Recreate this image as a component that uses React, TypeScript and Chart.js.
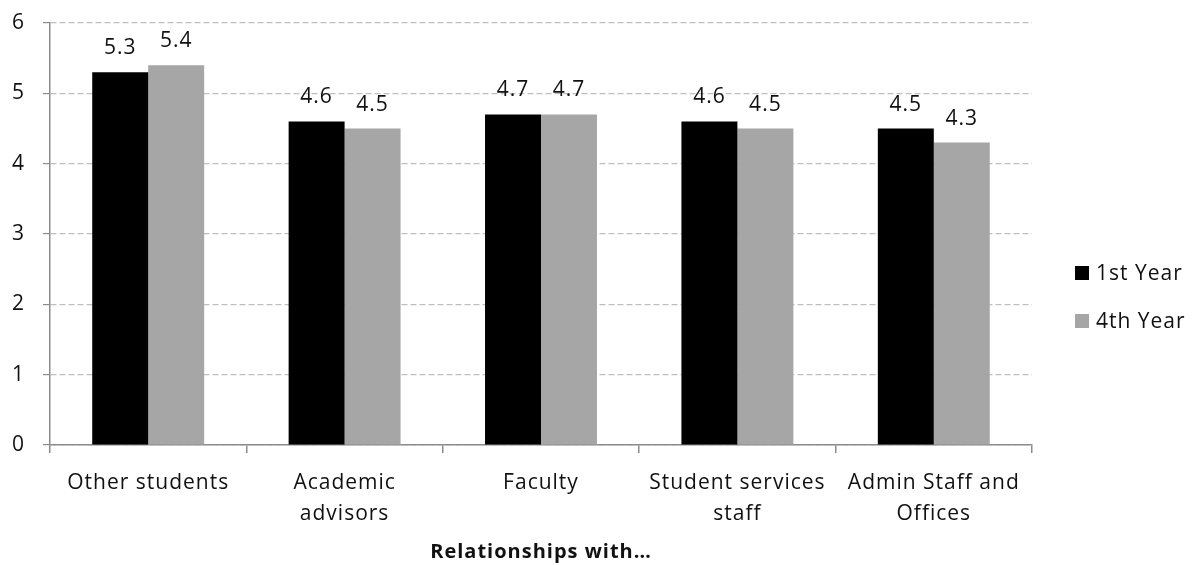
import React, { useEffect, useRef } from "react";
import { Chart, registerables } from "chart.js";

Chart.register(...registerables);

const categories: string[][] = [
  ["Other students"],
  ["Academic", "advisors"],
  ["Faculty"],
  ["Student services", "staff"],
  ["Admin Staff and", "Offices"],
];
const firstYear: number[] = [5.3, 4.6, 4.7, 4.6, 4.5];
const fourthYear: number[] = [5.4, 4.5, 4.7, 4.5, 4.3];
const seriesNames: string[] = ["1st Year", "4th Year"];
const yTicks: number[] = [0, 1, 2, 3, 4, 5, 6];
const axisTitle = "Relationships with…";

const FONT = "'Open Sans', 'Noto Sans', sans-serif";
const SPACING = "1px";

const spacing = {
  id: "spacing",
  beforeLayout(chart: any) {
    chart.ctx.letterSpacing = SPACING;
  },
  beforeDraw(chart: any) {
    chart.ctx.letterSpacing = SPACING;
  },
};

const valueLabels = {
  id: "valueLabels",
  afterDatasetsDraw(chart: any) {
    const ctx = chart.ctx;
    ctx.save();
    ctx.font = `21px ${FONT}`;
    ctx.fillStyle = "#111";
    ctx.textAlign = "center";
    ctx.textBaseline = "alphabetic";
    chart.data.datasets.forEach((ds: any, i: number) => {
      const meta = chart.getDatasetMeta(i);
      meta.data.forEach((el: any, j: number) => {
        ctx.fillText(ds.data[j].toFixed(1), el.x, el.y - 18);
      });
    });
    ctx.restore();
  },
};

const sideLegend = {
  id: "sideLegend",
  afterDraw(chart: any) {
    const ctx = chart.ctx;
    const area = chart.chartArea;
    const cx = area.right + 43;
    const mid = (area.top + area.bottom) / 2 + 63;
    const gap = 48;
    const n = chart.data.datasets.length;
    ctx.save();
    ctx.font = `21px ${FONT}`;
    ctx.textBaseline = "middle";
    ctx.textAlign = "left";
    chart.data.datasets.forEach((ds: any, i: number) => {
      const y = mid + (i - (n - 1) / 2) * gap;
      ctx.fillStyle = ds.backgroundColor;
      ctx.fillRect(cx, y - 7, 14, 14);
      ctx.fillStyle = "#111";
      ctx.fillText(ds.label, cx + 21, y + 1);
    });
    ctx.restore();
  },
};

export default function App() {
  const ref = useRef<HTMLCanvasElement>(null);
  useEffect(() => {
    if (!ref.current) return;
    const chart = new Chart(ref.current, {
      type: "bar",
      data: {
        labels: categories,
        datasets: [
          { label: seriesNames[0], data: firstYear, backgroundColor: "#000000" },
          { label: seriesNames[1], data: fourthYear, backgroundColor: "#a6a6a6" },
        ],
      },
      options: {
        animation: false,
        responsive: true,
        maintainAspectRatio: false,
        layout: { padding: { top: 15, right: 157, bottom: 0, left: 0 } },
        datasets: { bar: { categoryPercentage: 0.57, barPercentage: 1 } },
        plugins: {
          legend: { display: false },
          tooltip: { enabled: false },
        },
        scales: {
          x: {
            offset: true,
            grid: {
              offset: true,
              drawOnChartArea: false,
              tickLength: 8,
              color: "#8c8c8c",
              lineWidth: 1.5,
            },
            border: { color: "#8c8c8c", width: 1.5 },
            ticks: {
              color: "#111",
              font: { family: FONT, size: 21, lineHeight: 1.48 },
              padding: 14,
              maxRotation: 0,
              autoSkip: false,
            },
            title: {
              display: true,
              text: axisTitle,
              color: "#111",
              font: { family: FONT, size: 20, weight: "bold" },
              padding: { top: 4, bottom: 1 },
            },
            afterFit(scale: any) {
              scale.height = 120;
              scale.paddingLeft = 0;
              scale.paddingRight = 0;
            },
          },
          y: {
            min: 0,
            max: 6,
            afterBuildTicks(scale: any) {
              scale.ticks = yTicks.map((v) => ({ value: v }));
            },
            grid: {
              color: "#bfbfbf",
              lineWidth: 1.2,
              tickLength: 7,
              tickColor: "#8c8c8c",
              tickBorderDash: [],
            },
            border: { color: "#8c8c8c", width: 1.5, dash: [6, 3] },
            ticks: {
              color: "#111",
              font: { family: FONT, size: 21 },
              padding: 18,
            },
            afterFit(scale: any) {
              scale.width = 42;
              scale.paddingTop = 0;
              scale.paddingBottom = 0;
            },
          },
        },
      } as any,
      plugins: [spacing, valueLabels, sideLegend],
    });
    return () => chart.destroy();
  }, []);
  return (
    <div style={{ width: 1181, height: 557, position: "relative" }}>
      <canvas ref={ref} />
    </div>
  );
}
